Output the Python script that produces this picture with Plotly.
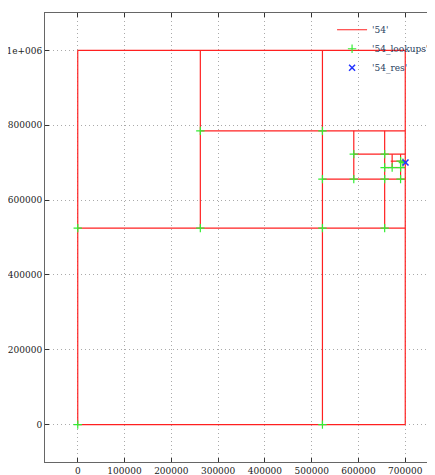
import plotly.graph_objects as go

# partition segments: (x0, y0, x1, y1)
seg_x0 = [0, 700000, 0, 0, 0, 262000, 262000, 523000, 590000, 523000, 656000, 590000, 672000, 656000, 690000, 669000]
seg_y0 = [0, 0, 1000000, 0, 525000, 525000, 785000, 0, 785000, 656000, 785000, 722700, 722700, 687000, 722700, 704000]
seg_x1 = [700000, 700000, 700000, 0, 700000, 262000, 700000, 523000, 590000, 700000, 656000, 700000, 672000, 700000, 690000, 700000]
seg_y1 = [0, 1000000, 1000000, 1000000, 525000, 1000000, 785000, 1000000, 656000, 656000, 525000, 722700, 687000, 687000, 656000, 704000]

look_x = [0, 523000, 0, 262000, 523000, 656000, 262000, 523000, 523000, 590000, 656000, 690000, 590000, 656000, 656000, 672000, 690000, 690000, 695000]
look_y = [0, 0, 525000, 525000, 525000, 525000, 785000, 785000, 656000, 656000, 656000, 656000, 722700, 722700, 687000, 687000, 687000, 704000, 700000]

res_x = [700600]
res_y = [700500]

xtick_vals = [0, 100000, 200000, 300000, 400000, 500000, 600000, 700000]
xtick_text = ["0", "100000", "200000", "300000", "400000", "500000", "600000", "700000"]
ytick_vals = [0, 200000, 400000, 600000, 800000, 1000000]
ytick_text = ["0", "200000", "400000", "600000", "800000", "1e+006"]

lx, ly = [], []
for a, b, c, d in zip(seg_x0, seg_y0, seg_x1, seg_y1):
    lx += [a, c, None]
    ly += [b, d, None]

fig = go.Figure()
fig.add_trace(go.Scatter(x=lx, y=ly, mode="lines", name="'54'",
                         line=dict(color="#ff2020", width=1.2)))
fig.add_trace(go.Scatter(x=look_x, y=look_y, mode="markers", name="'54_lookups'",
                         marker=dict(symbol="cross-thin", size=6, line=dict(color="#33ee33", width=1.2))))
fig.add_trace(go.Scatter(x=res_x, y=res_y, mode="markers", name="'54_res'",
                         marker=dict(symbol="x-thin", size=6, line=dict(color="#2233ff", width=1.5))))

ax = dict(showline=True, linecolor="#666", mirror="ticks", ticks="inside", ticklen=4,
          tickcolor="#333", showgrid=True, gridcolor="#aaa", griddash="1px,3px", gridwidth=1,
          zeroline=False, tickfont=dict(size=9, color="#222"), automargin=False)
fig.update_xaxes(range=[-70000, 770000], tickvals=xtick_vals, ticktext=xtick_text, **ax)
fig.update_yaxes(range=[-100000, 1100000], tickvals=ytick_vals, ticktext=ytick_text, **ax)
fig.update_layout(width=435, height=475, margin=dict(l=37, r=5, t=5, b=21),
                  plot_bgcolor="white", paper_bgcolor="white",
                  font=dict(family="DejaVu Serif", size=9),
                  legend=dict(x=0.99, y=0.995, xanchor="right", yanchor="top",
                              bgcolor="rgba(255,255,255,0)", font=dict(size=9),
                              tracegroupgap=0, itemwidth=30))
fig.write_html("out.html")
